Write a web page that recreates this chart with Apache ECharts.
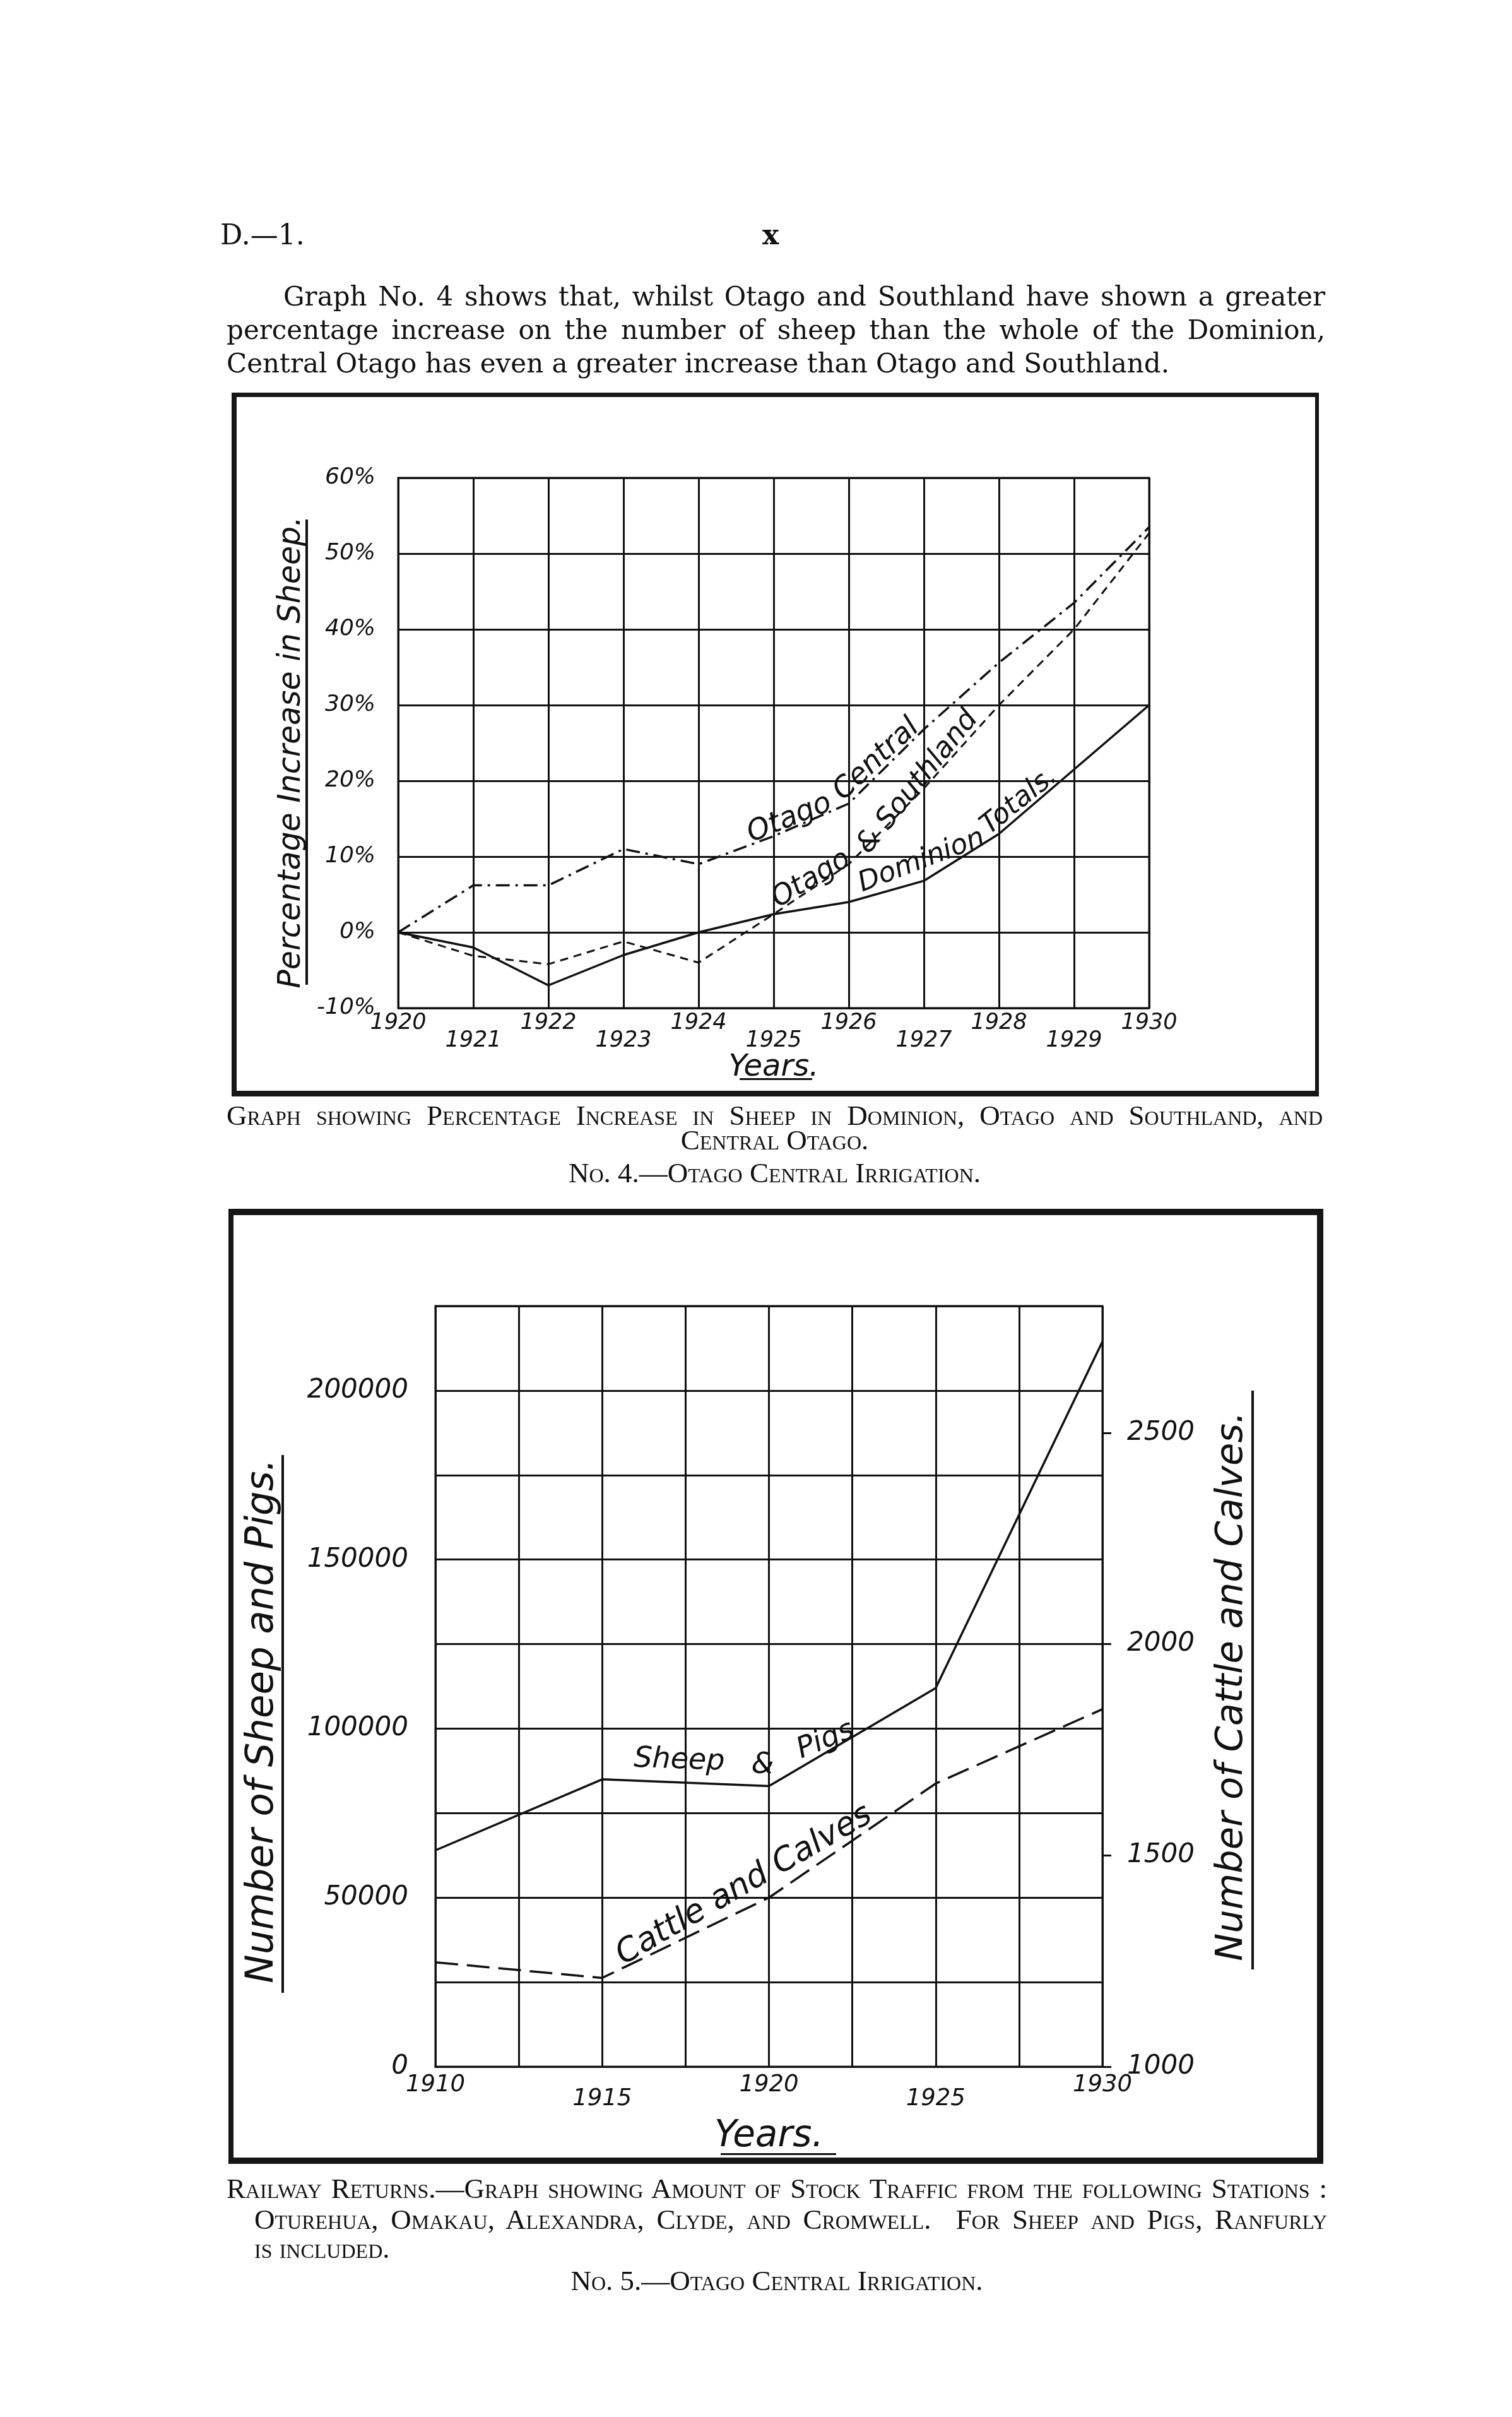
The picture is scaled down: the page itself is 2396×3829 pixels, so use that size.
<!DOCTYPE html>
<html><head><meta charset="utf-8">
<script src="https://cdn.jsdelivr.net/npm/echarts@6/dist/echarts.min.js"></script>
<style>
html,body{margin:0;padding:0;background:#fff;}
body{width:2396px;height:3829px;position:relative;overflow:hidden;}
#chart{position:absolute;left:0;top:0;width:2396px;height:3829px;}
.t{position:absolute;font-family:"Liberation Serif",serif;color:#111;white-space:nowrap;line-height:1;}
.p{font-family:"DejaVu Serif",serif;}
.j{text-align:justify;text-align-last:justify;white-space:normal;}
.c{text-align:center;}
.sc{font-variant:small-caps;}
.frame{position:absolute;border-style:solid;border-color:#161616;box-sizing:border-box;}
.ul{position:absolute;background:#111;}
</style></head><body>
<div id="chart"></div>

<div class="t p" style="left:349px;top:350px;font-size:44px;">D.—1.</div>
<div class="t p c" style="left:1171px;top:350px;width:100px;font-size:44px;font-weight:bold;">x</div>
<div class="t p j" style="left:449px;top:449px;width:1651px;font-size:42px;">Graph No. 4 shows that, whilst Otago and Southland have shown a greater</div>
<div class="t p j" style="left:359px;top:502px;width:1741px;font-size:42px;">percentage increase on the number of sheep than the whole of the Dominion,</div>
<div class="t p" style="left:359px;top:555px;font-size:42px;">Central Otago has even a greater increase than Otago and Southland.</div>

<div class="frame" style="left:367px;top:622px;width:1723px;height:1115px;border-width:7px 6px 9px 8px;"></div>
<div class="ul" style="left:484px;top:823px;width:4px;height:737px;"></div>
<div class="ul" style="left:1172px;top:1708px;width:115px;height:3px;"></div>

<div class="t j sc" style="left:359px;top:1745px;width:1737px;font-size:45px;">Graph showing Percentage Increase in Sheep in Dominion, Otago and Southland, and</div>
<div class="t c sc" style="left:359px;top:1784px;width:1737px;font-size:45px;">Central Otago.</div>
<div class="t c sc" style="left:359px;top:1836px;width:1737px;font-size:45px;">No. 4.—Otago Central Irrigation.</div>

<div class="frame" style="left:362px;top:1915px;width:1735px;height:1513px;border-width:10px 10px 10px 8px;"></div>
<div class="ul" style="left:446px;top:2305px;width:4px;height:852px;"></div>
<div class="ul" style="left:1983px;top:2203px;width:4px;height:917px;"></div>
<div class="ul" style="left:1142px;top:3411px;width:183px;height:3px;"></div>

<div class="t j sc" style="left:359px;top:3445px;width:1744px;font-size:45px;">Railway Returns.—Graph showing Amount of Stock Traffic from the following Stations :</div>
<div class="t j sc" style="left:403px;top:3494px;width:1700px;font-size:45px;">Oturehua, Omakau, Alexandra, Clyde, and Cromwell.&nbsp; For Sheep and Pigs, Ranfurly</div>
<div class="t sc" style="left:403px;top:3540px;font-size:45px;">is included.</div>
<div class="t c sc" style="left:359px;top:3591px;width:1744px;font-size:45px;">No. 5.—Otago Central Irrigation.</div>

<script>
// ---- Graph No. 4 data (percentage increase in sheep) ----
const years1 = [1920, 1921, 1922, 1923, 1924, 1925, 1926, 1927, 1928, 1929, 1930];
const otagoCentral   = [0, 6.2, 6.2, 11, 9, 12.7, 17, 26.8, 35.6, 43.5, 53.5];
const otagoSouthland = [0, -3.1, -4.2, -1.2, -4, 2.4, 9, 19, 30, 40, 52.7];
const dominionTotals = [0, -2, -7, -3, 0, 2.4, 4, 6.8, 13, 21.5, 30];

// ---- Graph No. 5 data (railway stock traffic) ----
const years2 = [1910, 1915, 1920, 1925, 1930];
const sheepPigs    = [64000, 85000, 83000, 112000, 214500];
const cattleCalves = [1247, 1210, 1400, 1670, 1846];

// ---- in-plot hand-lettered series labels (placed in data coordinates) ----
const notesCentral   = [{text:'Otago', at:[1925.21, 15.0], rot:22}, {text:'Central', at:[1926.37, 22.8], rot:43}];
const notesSouthland = [{text:'Otago', at:[1925.5, 7.0], rot:31}, {text:'& Southland', at:[1926.92, 19.8], rot:51}];
const notesDominion  = [{text:'Dominion', at:[1926.97, 9.4], rot:21}, {text:'Totals.', at:[1928.27, 17.3], rot:39}];
const notesSheep     = [{text:'Sheep', at:[1917.31, 90500], rot:-2}, {text:'&', at:[1919.81, 89000], rot:0}, {text:'Pigs', at:[1921.7, 96500], rot:22}];
const notesCattle    = [{text:'Cattle and Calves', at:[1919.26, 1429], rot:30}];

const FONT = 'DejaVu Sans';
const ink = '#111';
const it = {fontFamily: FONT, fontStyle: 'italic', color: ink};
const pairs = (xs, ys) => xs.map((x, i) => [x, ys[i]]);
function notes(list, size) {
  return {
    symbol: 'rect', symbolSize: 1, silent: true,
    itemStyle: {color: 'rgba(0,0,0,0)'},
    label: Object.assign({show: true, position: 'inside', formatter: p => p.name, fontSize: size}, it),
    data: list.map(n => ({name: n.text, coord: n.at, label: {rotate: n.rot}}))
  };
}
const gridLine = {show: true, lineStyle: {color: ink, width: 3}};

const option = {
  animation: false,
  backgroundColor: 'transparent',
  grid: [
    {left: 631, top: 757, width: 1190, height: 840, show: true, borderColor: ink, borderWidth: 3, backgroundColor: 'transparent'},
    {left: 690, top: 2069, width: 1057, height: 1205, show: true, borderColor: ink, borderWidth: 3, backgroundColor: 'transparent'}
  ],
  xAxis: [
    {gridIndex: 0, type: 'value', min: 1920, max: 1930, interval: 1,
     axisLine: gridLine, axisTick: {show: false}, splitLine: gridLine,
     axisLabel: {margin: 6, formatter: v => (v % 2 === 0 ? '{a|' : '{b|') + v + '}',
       rich: {a: Object.assign({fontSize: 35, lineHeight: 36}, it), b: Object.assign({fontSize: 35, lineHeight: 92}, it)}},
     name: 'Years.', nameLocation: 'middle', nameGap: 66, nameTextStyle: Object.assign({fontSize: 48}, it)},
    {gridIndex: 1, type: 'value', min: 1910, max: 1930, interval: 2.5,
     axisLine: gridLine, axisTick: {show: false}, splitLine: gridLine,
     axisLabel: {margin: 10, formatter: v => {
         if (Math.abs(v % 5) > 1e-6) return '';
         const k = Math.round((v - 1910) / 5);
         return (k % 2 === 0 ? '{a|' : '{b|') + v + '}';
       },
       rich: {a: Object.assign({fontSize: 37, lineHeight: 38}, it), b: Object.assign({fontSize: 37, lineHeight: 82}, it)}},
     name: 'Years.', nameLocation: 'middle', nameGap: 82, nameTextStyle: Object.assign({fontSize: 58}, it)}
  ],
  yAxis: [
    {gridIndex: 0, type: 'value', min: -10, max: 60, interval: 10,
     axisLine: gridLine, axisTick: {show: false}, splitLine: gridLine,
     axisLabel: Object.assign({margin: 36, fontSize: 36, formatter: '{value}%'}, it),
     name: 'Percentage Increase in Sheep.', nameLocation: 'middle', nameRotate: 90, nameGap: 144,
     nameTextStyle: Object.assign({fontSize: 49, padding: [0, 30, 0, 0]}, it)},
    {gridIndex: 1, type: 'value', min: 0, max: 225000, interval: 25000,
     axisLine: gridLine, axisTick: {show: false}, splitLine: gridLine,
     axisLabel: Object.assign({margin: 43, fontSize: 42, formatter: v => (v % 50000 === 0 ? String(v) : '')}, it),
     name: 'Number of Sheep and Pigs.', nameLocation: 'middle', nameRotate: 90, nameGap: 243,
     nameTextStyle: Object.assign({fontSize: 61, padding: [0, 110, 0, 0]}, it)},
    {gridIndex: 1, type: 'value', position: 'right', min: 1000, max: 2800, interval: 500,
     axisLine: {show: false}, splitLine: {show: false},
     axisTick: {show: true, length: 14, lineStyle: {color: ink, width: 3}},
     axisLabel: Object.assign({margin: 39, fontSize: 42, showMaxLabel: false, formatter: v => (v > 2500 ? '' : String(v))}, it),
     name: 'Number of Cattle and Calves.', nameLocation: 'middle', nameRotate: 90, nameGap: 176,
     nameTextStyle: Object.assign({fontSize: 59}, it)}
  ],
  series: [
    {name: 'Otago Central', type: 'line', xAxisIndex: 0, yAxisIndex: 0, symbol: 'none',
     data: pairs(years1, otagoCentral), lineStyle: {color: ink, width: 3.5, type: [22, 9, 4, 9]},
     markPoint: notes(notesCentral, 46)},
    {name: 'Otago & Southland', type: 'line', xAxisIndex: 0, yAxisIndex: 0, symbol: 'none',
     data: pairs(years1, otagoSouthland), lineStyle: {color: ink, width: 3, type: [13, 9]},
     markPoint: notes(notesSouthland, 45)},
    {name: 'Dominion Totals', type: 'line', xAxisIndex: 0, yAxisIndex: 0, symbol: 'none',
     data: pairs(years1, dominionTotals), lineStyle: {color: ink, width: 3.5, type: 'solid'},
     markPoint: notes(notesDominion, 44)},
    {name: 'Sheep & Pigs', type: 'line', xAxisIndex: 1, yAxisIndex: 1, symbol: 'none',
     data: pairs(years2, sheepPigs), lineStyle: {color: ink, width: 3.5, type: 'solid'},
     markPoint: notes(notesSheep, 46)},
    {name: 'Cattle and Calves', type: 'line', xAxisIndex: 1, yAxisIndex: 2, symbol: 'none',
     data: pairs(years2, cattleCalves), lineStyle: {color: ink, width: 3.5, type: [36, 14]},
     markPoint: notes(notesCattle, 52)}
  ]
};
const chart = echarts.init(document.getElementById('chart'), null, {renderer: 'canvas', width: 2396, height: 3829});
chart.setOption(option);
</script>
</body></html>
